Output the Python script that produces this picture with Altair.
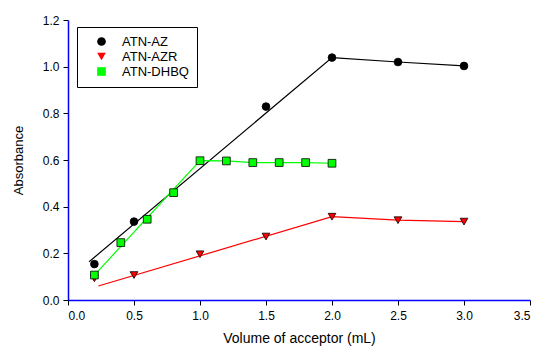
import altair as alt
import pandas as pd

series = ["ATN-AZ", "ATN-AZR", "ATN-DHBQ"]

# measured points
az_x = [0.2, 0.5, 1.5, 2.0, 2.5, 3.0]
az_y = [0.154, 0.336, 0.829, 1.039, 1.020, 1.003]
azr_x = [0.2, 0.5, 1.0, 1.5, 2.0, 2.5, 3.0]
azr_y = [0.093, 0.107, 0.196, 0.272, 0.357, 0.342, 0.336]
dhbq_x = [0.2, 0.4, 0.6, 0.8, 1.0, 1.2, 1.4, 1.6, 1.8, 2.0]
dhbq_y = [0.107, 0.246, 0.346, 0.460, 0.597, 0.596, 0.589, 0.589, 0.589, 0.586]

# fitted / connecting lines
az_line_x = [0.16, 2.0, 2.5, 3.0]
az_line_y = [0.164, 1.039, 1.020, 1.003]
azr_line_x = [0.23, 2.0, 2.5, 3.0]
azr_line_y = [0.060, 0.357, 0.342, 0.336]
dhbq_line_x = [0.2, 1.0, 1.2, 1.4, 1.6, 1.8, 2.0]
dhbq_line_y = [0.107, 0.597, 0.596, 0.589, 0.589, 0.589, 0.586]

x_ticks = [0, 0.5, 1.0, 1.5, 2.0, 2.5, 3.0, 3.5]
y_ticks = [0, 0.2, 0.4, 0.6, 0.8, 1.0, 1.2]

colors = ["#000000", "#ff0000", "#00ff00"]
shapes = ["circle", "triangle-down", "square"]

pts = pd.concat([
    pd.DataFrame({"x": az_x, "y": az_y, "s": series[0]}),
    pd.DataFrame({"x": azr_x, "y": azr_y, "s": series[1]}),
    pd.DataFrame({"x": dhbq_x, "y": dhbq_y, "s": series[2]}),
])

xscale = alt.Scale(domain=[0, 3.5], nice=False, zero=False)
yscale = alt.Scale(domain=[0, 1.2], nice=False, zero=False)

xax = alt.Axis(values=x_ticks, format=".1f", title="Volume of acceptor (mL)",
               grid=False, domainColor="#0000ff", domainWidth=1.5, tickColor="#000000", tickSize=5,
               labelFont="Liberation Sans", labelFontSize=12, labelColor="#000000", labelPadding=5,
               titleFont="Liberation Sans", titleFontSize=14, titleFontWeight="normal", titleColor="#000000",
               titlePadding=10)
yax = alt.Axis(values=y_ticks, format=".1f", title="Absorbance",
               grid=False, domainColor="#0000ff", domainWidth=1.5, tickColor="#000000", tickSize=5,
               labelFont="Liberation Sans", labelFontSize=12, labelColor="#000000", labelPadding=4,
               titleFont="Liberation Sans", titleFontSize=13, titleFontWeight="normal", titleColor="#000000",
               titlePadding=17)


def line_layer(xs, ys, color):
    df = pd.DataFrame({"x": xs, "y": ys, "o": range(len(xs))})
    return alt.Chart(df).mark_line(strokeWidth=1.2, color=color).encode(
        x=alt.X("x:Q", scale=xscale, axis=xax),
        y=alt.Y("y:Q", scale=yscale, axis=yax),
        order="o:Q",
    )


leg = alt.Legend(title=None, orient="none", legendX=9, legendY=7,
                 strokeColor="#000000", fillColor="#ffffff", padding=8,
                 symbolOffset=10, labelOffset=14, rowPadding=1,
                 labelFont="Liberation Sans", labelFontSize=13, labelColor="#000000",
                 symbolSize=75, symbolStrokeColor="#000000", symbolStrokeWidth=0.8)

pt_layer = alt.Chart(pts).mark_point(filled=True, size=60, stroke="#000000", strokeWidth=0.8, opacity=1).encode(
    x=alt.X("x:Q", scale=xscale, axis=xax),
    y=alt.Y("y:Q", scale=yscale, axis=yax),
    fill=alt.Fill("s:N", scale=alt.Scale(domain=series, range=colors), legend=leg),
    shape=alt.Shape("s:N", scale=alt.Scale(domain=series, range=shapes), legend=leg),
)

chart = alt.layer(
    line_layer(az_line_x, az_line_y, colors[0]),
    line_layer(azr_line_x, azr_line_y, colors[1]),
    line_layer(dhbq_line_x, dhbq_line_y, colors[2]),
    pt_layer,
).properties(
    width=462, height=280,
    autosize=alt.AutoSizeParams(type="none"),
    padding={"left": 60, "top": 12, "right": 1, "bottom": 46},
).configure_view(stroke=None)

chart.save("out.html", embed_options={"renderer": "svg", "actions": False})
